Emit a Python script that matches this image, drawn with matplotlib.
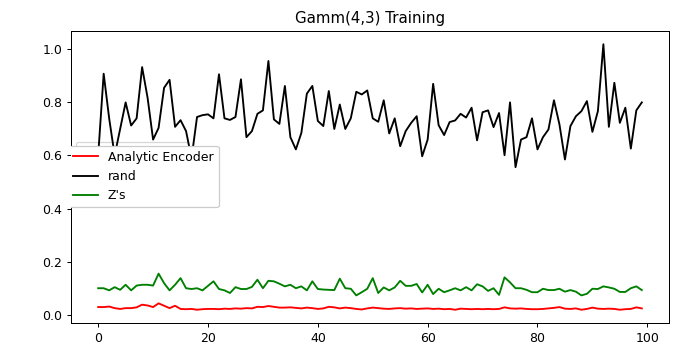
import matplotlib
matplotlib.use("Agg")
import matplotlib.pyplot as plt
from matplotlib.lines import Line2D

title = "Gamm(4,3) Training"
labels = ["Analytic Encoder", "rand", "Z's"]

encoder = [0.029, 0.029, 0.031, 0.025, 0.022, 0.025, 0.025, 0.028, 0.038, 0.035,
           0.029, 0.043, 0.034, 0.025, 0.034, 0.022, 0.021, 0.022, 0.019, 0.021,
           0.022, 0.022, 0.021, 0.023, 0.022, 0.024, 0.023, 0.025, 0.024, 0.030,
           0.029, 0.033, 0.030, 0.027, 0.027, 0.028, 0.026, 0.024, 0.027, 0.025,
           0.022, 0.024, 0.030, 0.028, 0.024, 0.027, 0.025, 0.022, 0.020, 0.024,
           0.027, 0.025, 0.023, 0.022, 0.024, 0.025, 0.023, 0.024, 0.022, 0.023,
           0.024, 0.022, 0.023, 0.021, 0.022, 0.019, 0.023, 0.022, 0.021, 0.022,
           0.021, 0.022, 0.021, 0.022, 0.028, 0.024, 0.023, 0.024, 0.022, 0.021,
           0.021, 0.022, 0.024, 0.026, 0.029, 0.023, 0.022, 0.024, 0.019, 0.022,
           0.027, 0.023, 0.022, 0.023, 0.022, 0.019, 0.021, 0.022, 0.028, 0.024]

rand = [0.60, 0.908, 0.74, 0.60, 0.70, 0.80, 0.713, 0.74, 0.933, 0.817,
        0.66, 0.704, 0.855, 0.885, 0.708, 0.733, 0.692, 0.59, 0.745, 0.752,
        0.755, 0.74, 0.906, 0.74, 0.734, 0.745, 0.887, 0.669, 0.692, 0.757,
        0.77, 0.956, 0.736, 0.719, 0.862, 0.669, 0.623, 0.685, 0.833, 0.862,
        0.73, 0.711, 0.843, 0.70, 0.792, 0.70, 0.74, 0.84, 0.83, 0.845,
        0.74, 0.727, 0.808, 0.683, 0.74, 0.635, 0.692, 0.723, 0.748, 0.597,
        0.66, 0.87, 0.714, 0.677, 0.726, 0.732, 0.757, 0.743, 0.78, 0.657,
        0.763, 0.77, 0.707, 0.76, 0.601, 0.80, 0.556, 0.66, 0.669, 0.74,
        0.623, 0.669, 0.698, 0.808, 0.717, 0.585, 0.711, 0.748, 0.767, 0.805,
        0.689, 0.767, 1.019, 0.708, 0.874, 0.723, 0.78, 0.626, 0.77, 0.80]

zs = [0.100, 0.100, 0.092, 0.104, 0.094, 0.113, 0.092, 0.110, 0.113, 0.113,
      0.110, 0.155, 0.119, 0.092, 0.113, 0.138, 0.100, 0.097, 0.100, 0.092,
      0.109, 0.126, 0.097, 0.092, 0.082, 0.104, 0.097, 0.097, 0.105, 0.132,
      0.100, 0.128, 0.126, 0.117, 0.107, 0.113, 0.100, 0.107, 0.092, 0.126,
      0.097, 0.095, 0.094, 0.093, 0.136, 0.100, 0.098, 0.073, 0.085, 0.098,
      0.138, 0.082, 0.103, 0.092, 0.103, 0.128, 0.109, 0.109, 0.116, 0.084,
      0.113, 0.078, 0.098, 0.085, 0.092, 0.100, 0.092, 0.104, 0.092, 0.115,
      0.107, 0.090, 0.100, 0.075, 0.141, 0.122, 0.100, 0.100, 0.094, 0.085,
      0.085, 0.098, 0.093, 0.093, 0.098, 0.087, 0.093, 0.087, 0.073, 0.079,
      0.098, 0.097, 0.107, 0.103, 0.098, 0.086, 0.086, 0.100, 0.107, 0.093]

colors = ["red", "black", "green"]

W, H, DPI = 689, 351, 90
fig = plt.figure(figsize=(W / DPI, H / DPI), dpi=DPI)
ax = fig.add_axes([71 / W, 1 - 323 / H, (669 - 71) / W, (323 - 31) / H])

series = [encoder, rand, zs]
steps = list(range(len(rand)))
for vals, c, lab in zip(series, colors, labels):
    ax.plot(steps, vals, color=c, label=lab)

ax.set_title(title)

# an older legend sits underneath the curves
handles = [Line2D([], [], color=c) for c in colors]
back = ax.legend(handles, labels, loc="upper left", fontsize=8,
                 handlelength=1.2, labelspacing=1.25,
                 bbox_to_anchor=(76 / W, 1 - 142 / H),
                 bbox_transform=fig.transFigure, borderaxespad=0)
back.set_zorder(1.5)
ax.add_artist(back)

# the visible legend, its left part cut off at the axes edge
front = ax.legend(loc="center left", bbox_to_anchor=(68 / W, 1 - 176.5 / H),
                  bbox_transform=fig.transFigure, borderaxespad=0,
                  framealpha=1)
for art in front.findobj():
    art.set_clip_box(ax.bbox)
    art.set_clip_on(True)

fig.savefig("out.png", dpi=DPI)
